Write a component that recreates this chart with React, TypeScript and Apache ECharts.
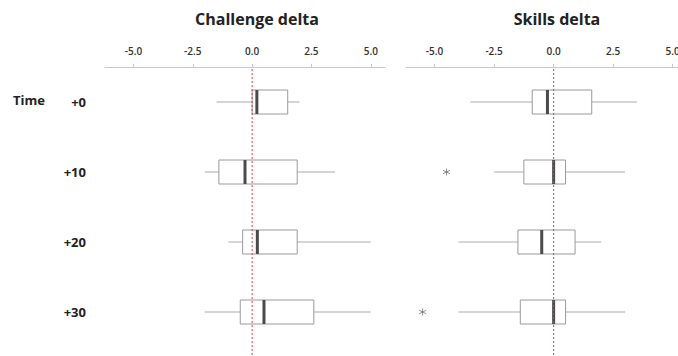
import React, { useEffect, useRef } from "react";
import * as echarts from "echarts";

const timeCategories = ["+0", "+10", "+20", "+30"];
const tickValues = [-5, -2.5, 0, 2.5, 5];

// [min, Q1, median, Q3, max]
const challengeBoxes = [
  [-1.5, 0.0, 0.2, 1.5, 2.0],
  [-2.0, -1.4, -0.3, 1.9, 3.5],
  [-1.0, -0.4, 0.22, 1.9, 5.0],
  [-2.0, -0.5, 0.5, 2.6, 5.0],
];
const skillsBoxes = [
  [-3.5, -0.9, -0.26, 1.6, 3.5],
  [-2.5, -1.25, 0.0, 0.5, 3.0],
  [-4.0, -1.5, -0.5, 0.9, 2.0],
  [-4.0, -1.4, 0.0, 0.5, 3.0],
];
const skillsOutliers = [
  [-4.5, "+10"],
  [-5.5, "+30"],
];

const FONT = "'Open Sans', 'DejaVu Sans', sans-serif";
const AX_MIN = -6.2;
const AX_MAX = 5.6;
const STAR = "path://M0,-5L0,5M-4.33,-2.5L4.33,2.5M-4.33,2.5L4.33,-2.5";
const HALF_BOX = 12;

export default function App() {
  const ref = useRef<HTMLDivElement>(null);
  useEffect(() => {
    if (!ref.current) return;
    const chart = echarts.init(ref.current, undefined, { renderer: "svg" });

    const valueAxis = (gridIndex: number) => ({
      type: "value",
      gridIndex,
      position: "top",
      min: AX_MIN,
      max: AX_MAX,
      splitLine: { show: false },
      axisLine: { show: true, lineStyle: { color: "#c8c8c8", width: 1 } },
      axisTick: {
        show: true,
        length: 3,
        customValues: tickValues,
        lineStyle: { color: "#c8c8c8" },
      },
      axisLabel: {
        customValues: tickValues,
        formatter: (v: number) => v.toFixed(1),
        color: "#333",
        fontSize: 10,
        fontWeight: 600,
        fontFamily: FONT,
        margin: 11,
      },
    });
    const catAxis = (gridIndex: number, showLabels: boolean) => ({
      type: "category",
      gridIndex,
      inverse: true,
      data: timeCategories,
      axisLine: { show: false },
      axisTick: { show: false },
      axisLabel: {
        show: showLabels,
        color: "#222",
        fontSize: 13,
        fontWeight: "bold",
        fontFamily: FONT,
        margin: 19,
      },
    });
    const hiddenX = (gridIndex: number) => ({
      type: "value",
      gridIndex,
      min: AX_MIN,
      max: AX_MAX,
      show: false,
    });
    const hiddenY = (gridIndex: number) => ({
      type: "value",
      gridIndex,
      min: 0,
      max: 1,
      show: false,
    });

    const renderBox = (_params: any, api: any) => {
      const ci = api.value(0);
      const pMin = api.coord([api.value(1), ci]);
      const pQ1 = api.coord([api.value(2), ci]);
      const pMed = api.coord([api.value(3), ci]);
      const pQ3 = api.coord([api.value(4), ci]);
      const pMax = api.coord([api.value(5), ci]);
      const y = pMed[1];
      const whisker = { stroke: "#ababab", lineWidth: 1 };
      return {
        type: "group",
        children: [
          {
            type: "line",
            shape: { x1: pMin[0], y1: y, x2: pQ1[0], y2: y },
            style: whisker,
          },
          {
            type: "line",
            shape: { x1: pQ3[0], y1: y, x2: pMax[0], y2: y },
            style: whisker,
          },
          {
            type: "rect",
            shape: {
              x: pQ1[0],
              y: y - HALF_BOX,
              width: pQ3[0] - pQ1[0],
              height: HALF_BOX * 2,
            },
            style: { fill: "#fff", stroke: "#9a9a9a", lineWidth: 1 },
          },
          {
            type: "line",
            shape: { x1: pMed[0], y1: y - HALF_BOX, x2: pMed[0], y2: y + HALF_BOX },
            style: { stroke: "#4a4a4a", lineWidth: 3 },
          },
        ],
      };
    };

    const boxSeries = (idx: number, data: number[][]) => ({
      type: "custom",
      xAxisIndex: idx,
      yAxisIndex: idx,
      data: data.map((b, i) => [i, ...b]),
      encode: { x: [1, 2, 3, 4, 5], y: 0 },
      renderItem: renderBox,
      z: 2,
    });
    const zeroLine = (idx: number) => ({
      type: "line",
      xAxisIndex: idx,
      yAxisIndex: idx,
      data: [
        [0, 0],
        [0, 1],
      ],
      symbol: "none",
      lineStyle: { color: "#e8383d", width: 1, type: [2, 2] },
      z: 6,
    });

    chart.setOption({
      animation: false,
      backgroundColor: "#fff",
      title: [
        {
          text: "Challenge delta",
          left: 252,
          top: 6,
          textAlign: "center",
          textStyle: { fontSize: 16, fontWeight: "bold", color: "#222", fontFamily: FONT },
        },
        {
          text: "Skills delta",
          left: 552,
          top: 6,
          textAlign: "center",
          textStyle: { fontSize: 16, fontWeight: "bold", color: "#222", fontFamily: FONT },
        },
      ],
      graphic: [
        {
          type: "text",
          left: 13,
          top: 93,
          style: {
            text: "Time",
            fill: "#222",
            font: `bold 13px ${FONT}`,
          },
        },
      ],
      grid: [
        { left: 105, top: 67, width: 280, height: 280 },
        { left: 406, top: 67, width: 281, height: 280 },
        { left: 105, top: 67, width: 280, height: 288 },
        { left: 406, top: 67, width: 281, height: 288 },
      ],
      xAxis: [valueAxis(0), valueAxis(1), hiddenX(2), hiddenX(3)],
      yAxis: [catAxis(0, true), catAxis(1, false), hiddenY(2), hiddenY(3)],
      series: [
        boxSeries(0, challengeBoxes),
        boxSeries(1, skillsBoxes),
        {
          type: "scatter",
          xAxisIndex: 1,
          yAxisIndex: 1,
          data: skillsOutliers,
          symbol: STAR,
          symbolSize: 7,
          itemStyle: { color: "none", borderColor: "#777", borderWidth: 1 },
          z: 3,
        },
        zeroLine(2),
        zeroLine(3),
      ],
    });
    return () => chart.dispose();
  }, []);
  return (
    <div
      ref={ref}
      style={{ position: "fixed", left: 0, top: 0, width: 700, height: 356 }}
    />
  );
}
